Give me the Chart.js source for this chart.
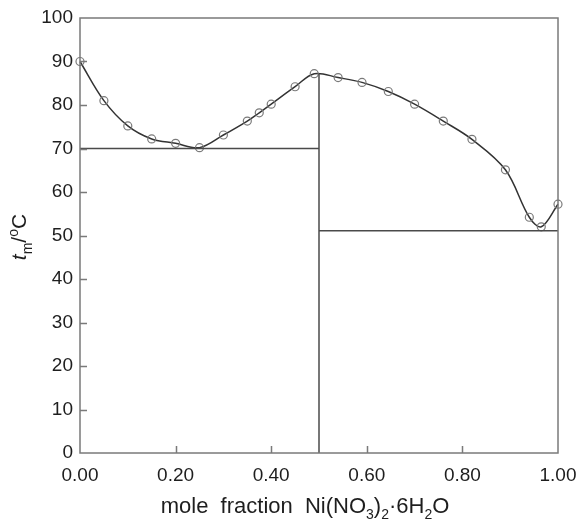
<!DOCTYPE html>
<html>
<head>
<meta charset="utf-8">
<script src="https://cdn.jsdelivr.net/npm/chart.js@4/dist/chart.umd.min.js"></script>
<style>
  html, body { margin: 0; padding: 0; background: #fff; }
  #wrap { width: 578px; height: 521px; }
</style>
</head>
<body>
<div id="wrap"><canvas id="grafico" width="578" height="521"></canvas></div>
<script>
// datos
const fraccion = [0, 0.05, 0.10, 0.15, 0.20, 0.25, 0.30, 0.35, 0.375, 0.40, 0.45, 0.49,
                  0.54, 0.59, 0.645, 0.70, 0.76, 0.82, 0.89, 0.94, 0.965, 1.0];
const temperatura = [90, 81, 75.2, 72.2, 71.2, 70.2, 73.1, 76.3, 78.2, 80.2, 84.2, 87.2,
                     86.3, 85.2, 83.1, 80.2, 76.3, 72.1, 65.1, 54.2, 52.0, 57.2];
const eutectica1 = [70, 70];
const eutectica1X = [0, 0.5];
const verticalX = [0.5, 0.5];
const verticalY = [0, 87.2];
const eutectica2 = [51.1, 51.1];
const eutectica2X = [0.5, 1.0];
const ticksX = [0, 0.2, 0.4, 0.6, 0.8, 1.0];
const ticksY = [0, 10, 20, 30, 40, 50, 60, 70, 80, 90, 100];

const FUENTE = "'Liberation Sans', Arial, sans-serif";
const COLOR_TEXTO = "#1e1e1e";

function puntos(xs, ys) {
    return xs.map((x, i) => ({ x: x, y: ys[i] }));
}

// dibuja marco, ticks hacia adentro y titulos con subindices
const marcoPlugin = {
    id: "marco",
    afterDraw: function(chart) {
        const ctx = chart.ctx;
        const a = chart.chartArea;
        const sx = chart.scales.x;
        const sy = chart.scales.y;
        ctx.save();
        ctx.strokeStyle = "#7a7a7a";
        ctx.lineWidth = 1.5;
        ctx.strokeRect(a.left, a.top, a.right - a.left, a.bottom - a.top);

        ctx.beginPath();
        ticksX.slice(1, -1).forEach(v => {
            const px = Math.round(sx.getPixelForValue(v)) + 0.5;
            ctx.moveTo(px, a.bottom);
            ctx.lineTo(px, a.bottom - 7);
        });
        ticksY.slice(1, -1).forEach(v => {
            const py = Math.round(sy.getPixelForValue(v)) + 0.5;
            ctx.moveTo(a.left, py);
            ctx.lineTo(a.left + 7, py);
        });
        ctx.stroke();

        ctx.fillStyle = COLOR_TEXTO;
        ctx.textBaseline = "alphabetic";
        ctx.textAlign = "left";

        // titulo eje x: mole fraction Ni(NO3)2·6H2O
        const partesX = [
            ["mole  fraction  Ni(NO", 0, "22px"],
            ["3", 6, "14px"],
            [")", 0, "22px"],
            ["2", 6, "14px"],
            ["·6H", 0, "22px"],
            ["2", 6, "14px"],
            ["O", 0, "22px"]
        ];
        let ancho = 0;
        partesX.forEach(p => { ctx.font = p[2] + " " + FUENTE; ancho += ctx.measureText(p[0]).width; });
        let cx = 305 - ancho / 2;
        partesX.forEach(p => {
            ctx.font = p[2] + " " + FUENTE;
            ctx.fillText(p[0], cx, 513 + p[1]);
            cx += ctx.measureText(p[0]).width;
        });

        // titulo eje y: t_m/oC
        const partesY = [
            ["t", 0, "italic 21px"],
            ["m", 6, "14px"],
            ["/", 0, "21px"],
            ["o", -8, "14px"],
            ["C", 0, "21px"]
        ];
        ancho = 0;
        partesY.forEach(p => { ctx.font = p[2] + " " + FUENTE; ancho += ctx.measureText(p[0]).width; });
        ctx.translate(26, 237);
        ctx.rotate(-Math.PI / 2);
        let cy = -ancho / 2;
        partesY.forEach(p => {
            ctx.font = p[2] + " " + FUENTE;
            ctx.fillText(p[0], cy, p[1]);
            cy += ctx.measureText(p[0]).width;
        });
        ctx.restore();
    }
};

const estiloLinea = {
    borderColor: "#4a4a4a",
    borderWidth: 1.5,
    pointRadius: 0,
    showLine: true,
    fill: false,
    tension: 0
};

new Chart("grafico", {
    type: "scatter",
    data: {
        datasets: [
            Object.assign({ data: puntos(eutectica1X, eutectica1) }, estiloLinea),
            Object.assign({ data: puntos(verticalX, verticalY) }, estiloLinea),
            Object.assign({ data: puntos(eutectica2X, eutectica2) }, estiloLinea),
            {
                data: puntos(fraccion, temperatura),
                showLine: true,
                borderColor: "#333333",
                borderWidth: 1.5,
                tension: 0.35,
                pointRadius: 4,
                pointBorderWidth: 1.2,
                pointBorderColor: "#7a7a7a",
                pointBackgroundColor: "rgba(255,255,255,0)",
                clip: false
            }
        ]
    },
    options: {
        responsive: false,
        animation: false,
        events: [],
        layout: { padding: { top: 18, right: 20, left: 0, bottom: 0 } },
        plugins: {
            legend: { display: false },
            tooltip: { enabled: false }
        },
        scales: {
            x: {
                type: "linear",
                min: 0,
                max: 1,
                grid: { display: false, drawTicks: false },
                border: { display: false },
                afterFit: function(s) { s.height = 68; s.paddingRight = 0; s.paddingLeft = 0; },
                afterBuildTicks: function(s) { s.ticks = ticksX.map(v => ({ value: v })); },
                ticks: {
                    padding: 11,
                    color: COLOR_TEXTO,
                    font: { family: FUENTE, size: 19 },
                    maxRotation: 0,
                    callback: v => v.toFixed(2)
                }
            },
            y: {
                type: "linear",
                min: 0,
                max: 100,
                grid: { display: false, drawTicks: false },
                border: { display: false },
                afterFit: function(s) { s.width = 80; s.paddingTop = 0; s.paddingBottom = 0; },
                afterBuildTicks: function(s) { s.ticks = ticksY.map(v => ({ value: v })); },
                ticks: {
                    padding: 7,
                    color: COLOR_TEXTO,
                    font: { family: FUENTE, size: 19 },
                    callback: v => String(v)
                }
            }
        }
    },
    plugins: [marcoPlugin]
});
</script>
</body>
</html>
